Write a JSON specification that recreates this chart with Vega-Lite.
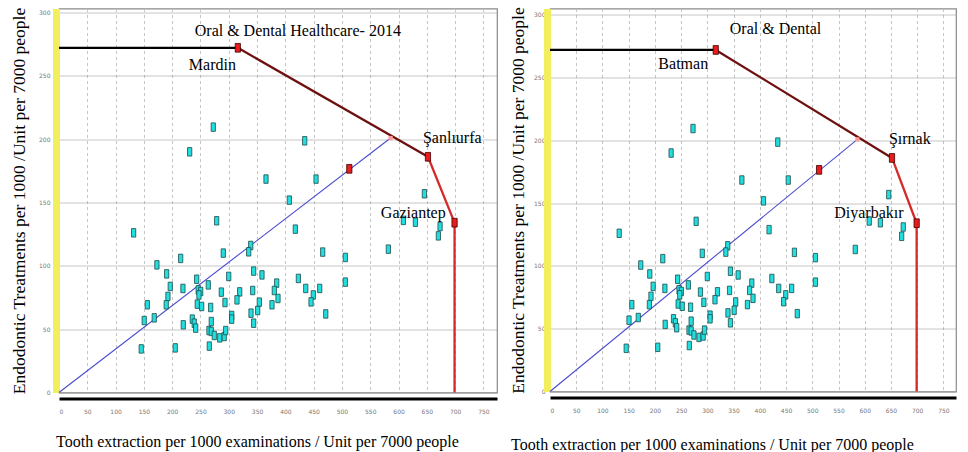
{
  "$schema": "https://vega.github.io/schema/vega-lite/v6.json",
  "padding": {"left": 9, "top": 5.5, "right": 2, "bottom": 2},
  "background": "white",
  "config": {
    "view": {"stroke": "#8a8a8a", "strokeWidth": 1.2},
    "font": "Liberation Serif"
  },
  "datasets": {
    "pts": [
      {"x":272.6,"y":209.4},{"x":230.9,"y":189.9},{"x":434.2,"y":198.6},{"x":365.8,"y":168.4},{"x":454.2,"y":168.4},{"x":407,"y":151.8},{"x":278.6,"y":135.5},{"x":131.9,"y":126},{"x":417.6,"y":128.9},{"x":338.8,"y":116},{"x":335.2,"y":111},{"x":290.3,"y":110},{"x":466,"y":110.8},{"x":506,"y":106.6},{"x":215,"y":105.8},{"x":173,"y":100.7},{"x":190.2,"y":93.6},{"x":243.3,"y":89.4},{"x":299.9,"y":91.6},{"x":344,"y":95.8},{"x":358.7,"y":92.8},{"x":423,"y":90},{"x":196.6,"y":83.7},{"x":219,"y":82.1},{"x":263.8,"y":84.9},{"x":246,"y":81},{"x":250.4,"y":79.7},{"x":247.3,"y":77},{"x":286.8,"y":79.2},{"x":319.3,"y":79.4},{"x":342.3,"y":80.5},{"x":384.7,"y":86.3},{"x":380.5,"y":80.5},{"x":436,"y":82.1},{"x":460.7,"y":82.1},{"x":506,"y":87.1},{"x":192.5,"y":75.8},{"x":449.4,"y":77},{"x":314.5,"y":73.1},{"x":293.3,"y":71},{"x":354,"y":71.3},{"x":387,"y":74.2},{"x":445.4,"y":71.5},{"x":156,"y":69.2},{"x":189.5,"y":69.2},{"x":244.3,"y":69.7},{"x":252.1,"y":67.9},{"x":268,"y":67.1},{"x":376.4,"y":69.2},{"x":351.1,"y":64.7},{"x":339.3,"y":62.6},{"x":305.2,"y":60.8},{"x":305.2,"y":57.9},{"x":471.4,"y":62},{"x":150.6,"y":56.8},{"x":168.3,"y":58.9},{"x":235.5,"y":57.9},{"x":239,"y":54.7},{"x":241.5,"y":50.8},{"x":219.6,"y":53.4},{"x":269.1,"y":56},{"x":344,"y":54.7},{"x":265,"y":48.9},{"x":269.1,"y":48.2},{"x":274.4,"y":45},{"x":284,"y":43.1},{"x":292,"y":44.2},{"x":294.6,"y":48.9},{"x":145.3,"y":34.4},{"x":205.4,"y":35.2},{"x":265.6,"y":36.6},{"x":645.7,"y":156.8},{"x":608.6,"y":135.8},{"x":629.8,"y":134.4},{"x":673.4,"y":131},{"x":670.4,"y":123.6},{"x":582,"y":113.1}
    ],
    "frontier": [
      {"seg":"a","ord":1,"x":0,"y":272},{"seg":"a","ord":2,"x":316,"y":272},
      {"seg":"b","ord":1,"x":316,"y":272},{"seg":"b","ord":2,"x":652,"y":186},
      {"seg":"c","ord":1,"x":652,"y":186},{"seg":"c","ord":2,"x":699,"y":134},{"seg":"c","ord":3,"x":699,"y":0}
    ],
    "proj": [{"ord":1,"x":0,"y":0},{"ord":2,"x":586,"y":200.8}],
    "pink": [{"x":586,"y":200.8}],
    "dmu": [{"x":316,"y":272},{"x":652,"y":186},{"x":699,"y":134},{"x":513,"y":176.5}],
    "labelsL": [
      {"t":"Oral & Dental Healthcare- 2014","x":422,"y":285},
      {"t":"Mardin","x":271,"y":258.6},
      {"t":"Şanlıurfa","x":695,"y":200.8},
      {"t":"Gaziantep","x":626,"y":141.5}
    ],
    "labelsR": [
      {"t":"Oral & Dental","x":430,"y":288.3},
      {"t":"Batman","x":254,"y":260.5},
      {"t":"Şırnak","x":686,"y":201.3},
      {"t":"Diyarbakır","x":608,"y":142.3}
    ]
  },
  "spacing": 10,
  "hconcat": [
    {
      "width": 438,
      "height": 384,
      "encoding": {
        "x": {"field": "x", "type": "quantitative",
          "scale": {"domain": [0, 774], "nice": false, "zero": false},
          "axis": {"title": "Tooth extraction per 1000 examinations / Unit per 7000 people",
            "values": [0,50,100,150,200,250,300,350,400,450,500,550,600,650,700,750],
            "grid": true, "gridColor": "#c4c4c4", "gridDash": [3,3],
            "ticks": false, "tickSize": 0, "labelFontSize": 6, "labelColor": "#777777", "labelFont": "DejaVu Sans",
            "labelDx": -7, "offset": 6, "domainColor": "#000000", "domainWidth": 3,
            "labelPadding": 9.5, "titlePadding": 19, "titleX": 198,
            "titleFont": "Liberation Serif", "titleFontSize": 16, "titleFontWeight": "normal", "titleColor": "#000000"}},
        "y": {"field": "y", "type": "quantitative",
          "scale": {"domain": [0, 303], "nice": false},
          "axis": {"title": "Endodontic Treatments per 1000 /Unit per 7000 people",
            "values": [0,50,100,150,200,250,300],
            "grid": true, "gridColor": "#8c8c8c", "gridDash": [1,1],
            "ticks": false, "tickSize": 0, "labelFontSize": 6, "labelColor": "#777777", "labelFont": "DejaVu Sans",
            "labelDy": 4, "offset": 3, "domainColor": "#f2ef5e", "domainWidth": 7,
            "labelPadding": 6, "titlePadding": 10.5,
            "titleFont": "Liberation Serif", "titleFontSize": 17.5, "titleFontWeight": "normal", "titleColor": "#000000"}}
      },
      "layer": [
        {"data": {"name": "proj"}, "mark": {"type": "line", "color": "#4a4ad0", "strokeWidth": 1.1},
         "encoding": {"order": {"field": "ord"}}},
        {"data": {"name": "frontier"}, "mark": {"type": "line", "strokeWidth": 2.3},
         "encoding": {"detail": {"field": "seg"}, "order": {"field": "ord"},
           "color": {"field": "seg", "type": "nominal", "legend": null,
             "scale": {"domain": ["a","b","c"], "range": ["#000000","#6e1010","#d42a2a"]}}}},
        {"data": {"name": "pts"}, "mark": {"type": "point", "shape": "M-0.5,-1L0.5,-1L0.5,1L-0.5,1Z", "size": 72, "filled": true, "fill": "#22dede", "stroke": "#1d4a4a", "strokeWidth": 0.8, "opacity": 1}},
        {"data": {"name": "pink"}, "mark": {"type": "point", "shape": "square", "size": 18, "filled": true, "color": "#ff9a9a", "opacity": 1}},
        {"data": {"name": "dmu"}, "mark": {"type": "point", "shape": "M-0.6,-1L0.6,-1L0.6,1L-0.6,1Z", "size": 76, "filled": true, "fill": "#e81c1c", "stroke": "#3a0000", "strokeWidth": 0.8, "opacity": 1}},
        {"data": {"name": "labelsL"}, "mark": {"type": "text", "font": "Liberation Serif", "fontSize": 16, "color": "#000000", "align": "center", "baseline": "middle"},
         "encoding": {"text": {"field": "t"}}}
      ]
    },
    {
      "width": 406,
      "height": 383,
      "encoding": {
        "x": {"field": "x", "type": "quantitative",
          "scale": {"domain": [0, 774], "nice": false, "zero": false},
          "axis": {"title": "Tooth extraction per 1000 examinations / Unit per 7000 people",
            "values": [0,50,100,150,200,250,300,350,400,450,500,550,600,650,700,750],
            "grid": true, "gridColor": "#c4c4c4", "gridDash": [3,3],
            "ticks": false, "tickSize": 0, "labelFontSize": 6, "labelColor": "#777777", "labelFont": "DejaVu Sans",
            "labelDx": -7, "offset": 6, "domainColor": "#000000", "domainWidth": 3,
            "labelPadding": 9.5, "titlePadding": 23, "titleX": 162,
            "titleFont": "Liberation Serif", "titleFontSize": 16, "titleFontWeight": "normal", "titleColor": "#000000"}},
        "y": {"field": "y", "type": "quantitative",
          "scale": {"domain": [0, 305], "nice": false},
          "axis": {"title": "Endodontic Treatments per 1000 /Unit per 7000 people",
            "values": [0,50,100,150,200,250,300],
            "grid": true, "gridColor": "#8c8c8c", "gridDash": [1,1],
            "ticks": false, "tickSize": 0, "labelFontSize": 6, "labelColor": "#777777", "labelFont": "DejaVu Sans",
            "labelDy": 4, "offset": 3, "domainColor": "#f2ef5e", "domainWidth": 7,
            "labelPadding": 2, "titlePadding": 6.5,
            "titleFont": "Liberation Serif", "titleFontSize": 17.5, "titleFontWeight": "normal", "titleColor": "#000000"}}
      },
      "layer": [
        {"data": {"name": "proj"}, "mark": {"type": "line", "color": "#4a4ad0", "strokeWidth": 1.1},
         "encoding": {"order": {"field": "ord"}}},
        {"data": {"name": "frontier"}, "mark": {"type": "line", "strokeWidth": 2.3},
         "encoding": {"detail": {"field": "seg"}, "order": {"field": "ord"},
           "color": {"field": "seg", "type": "nominal", "legend": null,
             "scale": {"domain": ["a","b","c"], "range": ["#000000","#6e1010","#d42a2a"]}}}},
        {"data": {"name": "pts"}, "mark": {"type": "point", "shape": "M-0.5,-1L0.5,-1L0.5,1L-0.5,1Z", "size": 72, "filled": true, "fill": "#22dede", "stroke": "#1d4a4a", "strokeWidth": 0.8, "opacity": 1}},
        {"data": {"name": "pink"}, "mark": {"type": "point", "shape": "square", "size": 18, "filled": true, "color": "#ff9a9a", "opacity": 1}},
        {"data": {"name": "dmu"}, "mark": {"type": "point", "shape": "M-0.6,-1L0.6,-1L0.6,1L-0.6,1Z", "size": 76, "filled": true, "fill": "#e81c1c", "stroke": "#3a0000", "strokeWidth": 0.8, "opacity": 1}},
        {"data": {"name": "labelsR"}, "mark": {"type": "text", "font": "Liberation Serif", "fontSize": 16, "color": "#000000", "align": "center", "baseline": "middle"},
         "encoding": {"text": {"field": "t"}}}
      ]
    }
  ]
}
